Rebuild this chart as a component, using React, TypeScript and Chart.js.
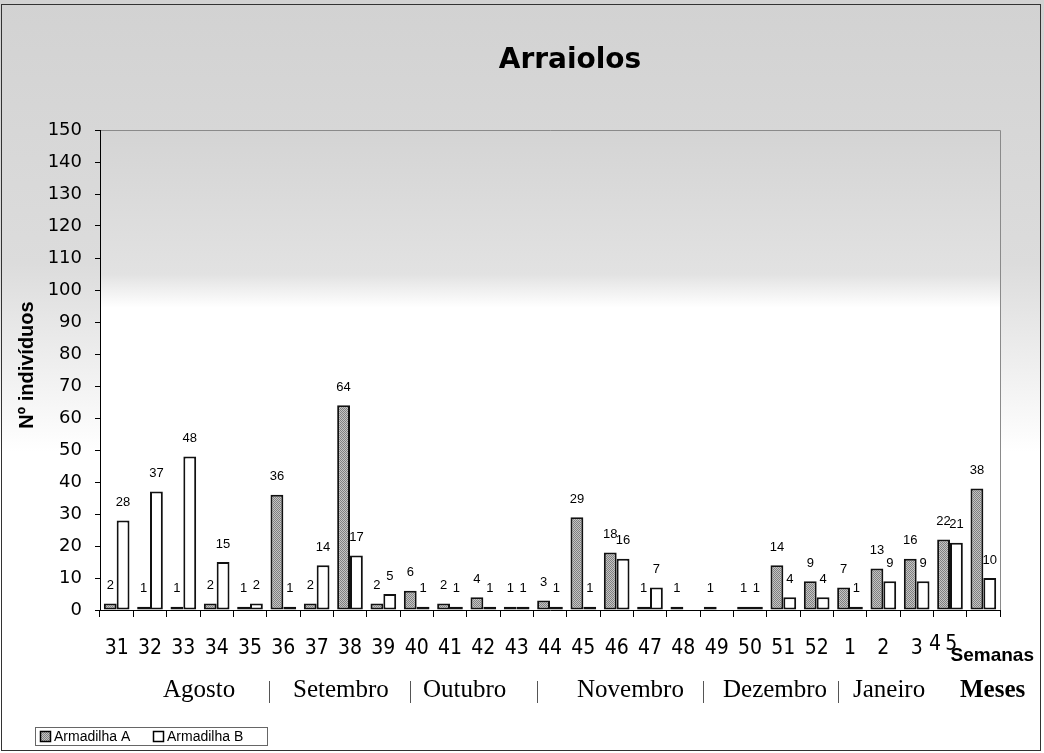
import React, { useEffect, useRef } from "react";
import { Chart, registerables } from "chart.js";

Chart.register(...registerables);

const weeks = ["31","32","33","34","35","36","37","38","39","40","41","42","43","44","45","46","47","48","49","50","51","52","1","2","3","4","5"];
const armadilhaA = [2, 1, 1, 2, 1, 36, 2, 64, 2, 6, 2, 4, 1, 3, 29, 18, 1, 1, 1, 1, 14, 9, 7, 13, 16, 22, 38];
const armadilhaB = [28, 37, 48, 15, 2, 1, 14, 17, 5, 1, 1, 1, 1, 1, 1, 16, 7, null, null, 1, 4, 4, 1, 9, 9, 21, 10];
const seriesNames = ["Armadilha A", "Armadilha B"];
const months = ["Agosto", "Setembro", "Outubro", "Novembro", "Dezembro", "Janeiro"];
const yMax = 150;
const yStep = 10;
const chartTitle = "Arraiolos";
const yTitle = "Nº indivíduos";
const weeksTitle = "Semanas";
const monthsTitle = "Meses";
const shiftedWeekCount = 2; // last week labels drawn shifted left, as in the source

const weekFont = "21px 'Liberation Sans Narrow', 'DejaVu Sans Condensed', sans-serif";

function makePattern(): CanvasPattern | string {
  const c = document.createElement("canvas");
  c.width = 2;
  c.height = 2;
  const g = c.getContext("2d");
  if (!g) return "#a6a6a6";
  g.fillStyle = "#c4c4c4";
  g.fillRect(0, 0, 2, 2);
  g.fillStyle = "#808080";
  g.fillRect(0, 0, 1, 1);
  g.fillRect(1, 1, 1, 1);
  const p = g.createPattern(c, "repeat");
  return p || "#a6a6a6";
}

export default function App() {
  const ref = useRef<HTMLCanvasElement>(null);

  useEffect(() => {
    if (!ref.current) return;
    const grayFill = makePattern();
    const n = weeks.length;
    const shiftPx = [-15, -32];

    const decor = {
      id: "decor",
      beforeDraw(chart: any) {
        const ctx = chart.ctx;
        const { left, top, right, bottom } = chart.chartArea;
        ctx.save();
        const g = ctx.createLinearGradient(0, 0, 0, 753);
        g.addColorStop(0, "#d2d2d2");
        g.addColorStop(0.35, "#dcdcdc");
        g.addColorStop(0.6, "#ffffff");
        g.addColorStop(1, "#ffffff");
        ctx.fillStyle = g;
        ctx.fillRect(0, 0, 1044, 753);
        const pg = ctx.createLinearGradient(0, top, 0, bottom);
        pg.addColorStop(0, "#d4d4d4");
        pg.addColorStop(0.3, "#e2e2e2");
        pg.addColorStop(0.37, "#ffffff");
        pg.addColorStop(1, "#ffffff");
        ctx.fillStyle = pg;
        ctx.fillRect(left, top, right - left, bottom - top);
        ctx.strokeStyle = "#8a8a8a";
        ctx.lineWidth = 1;
        ctx.beginPath();
        ctx.moveTo(left, top + 0.5);
        ctx.lineTo(right + 0.5, top + 0.5);
        ctx.lineTo(right + 0.5, bottom);
        ctx.stroke();
        ctx.restore();
      },
      afterDatasetsDraw(chart: any) {
        const ctx = chart.ctx;
        ctx.save();
        ctx.font = "13px 'Liberation Sans', Arial, sans-serif";
        ctx.fillStyle = "#000";
        ctx.textAlign = "center";
        ctx.textBaseline = "middle";
        chart.data.datasets.forEach((ds: any, di: number) => {
          const meta = chart.getDatasetMeta(di);
          meta.data.forEach((el: any, i: number) => {
            const v = ds.data[i];
            if (v === null || v === undefined) return;
            ctx.fillText(String(v), el.x, el.y - 18);
          });
        });
        ctx.restore();
      },
      afterDraw(chart: any) {
        const ctx = chart.ctx;
        const xs = chart.scales.x;
        ctx.save();
        // shifted last week labels
        ctx.fillStyle = "#000";
        ctx.font = weekFont;
        ctx.textAlign = "center";
        ctx.textBaseline = "top";
        for (let k = 0; k < shiftedWeekCount; k++) {
          const i = n - shiftedWeekCount + k;
          const x = xs.getPixelForValue(i) + shiftPx[k];
          ctx.fillText(weeks[i], x, xs.top + 24);
        }
        // title
        ctx.font = "bold 28px 'DejaVu Sans', sans-serif";
        ctx.textAlign = "center";
        ctx.textBaseline = "alphabetic";
        ctx.fillText(chartTitle, 570, 68);
        // y title
        ctx.save();
        ctx.translate(33, 365);
        ctx.rotate(-Math.PI / 2);
        ctx.font = "bold 20px 'Liberation Sans', Arial, sans-serif";
        ctx.textAlign = "center";
        ctx.textBaseline = "alphabetic";
        ctx.fillText(yTitle, 0, 0);
        ctx.restore();
        // Semanas
        ctx.font = "bold 19px 'Liberation Sans', Arial, sans-serif";
        ctx.textAlign = "right";
        ctx.textBaseline = "middle";
        ctx.fillText(weeksTitle, 1034, 656);
        // months
        ctx.font = "25px 'Liberation Serif', 'Times New Roman', serif";
        ctx.textAlign = "left";
        ctx.textBaseline = "alphabetic";
        const mx = [163, 293, 423, 577, 723, 853];
        months.forEach((m, i) => ctx.fillText(m, mx[i], 697));
        ctx.font = "bold 25px 'Liberation Serif', 'Times New Roman', serif";
        ctx.fillText(monthsTitle, 960, 697);
        ctx.strokeStyle = "#555";
        ctx.lineWidth = 1;
        [269, 410, 537, 703, 838].forEach((x) => {
          ctx.beginPath();
          ctx.moveTo(x + 0.5, 681);
          ctx.lineTo(x + 0.5, 703);
          ctx.stroke();
        });
        // legend
        ctx.fillStyle = "#fff";
        ctx.fillRect(35, 727, 232, 18);
        ctx.strokeStyle = "#666";
        ctx.strokeRect(35.5, 727.5, 232, 18);
        ctx.fillStyle = grayFill as any;
        ctx.fillRect(40, 731, 10, 10);
        ctx.strokeStyle = "#000";
        ctx.lineWidth = 1.5;
        ctx.strokeRect(40.5, 731.5, 10, 10);
        ctx.fillStyle = "#fff";
        ctx.fillRect(153, 731, 10, 10);
        ctx.strokeRect(153.5, 731.5, 10, 10);
        ctx.fillStyle = "#000";
        ctx.font = "14px 'Liberation Sans', Arial, sans-serif";
        ctx.textAlign = "left";
        ctx.textBaseline = "middle";
        ctx.fillText(seriesNames[0], 54, 737);
        ctx.fillText(seriesNames[1], 167, 737);
        // outer border
        ctx.strokeStyle = "#333";
        ctx.lineWidth = 1;
        ctx.strokeRect(1.5, 4.5, 1039, 746);
        ctx.restore();
      },
    };

    const chart = new Chart(ref.current, {
      type: "bar",
      data: {
        labels: weeks,
        datasets: [
          {
            label: seriesNames[0],
            data: armadilhaA,
            backgroundColor: grayFill as any,
            borderColor: "#111",
            borderWidth: 2,
            borderSkipped: false,
            categoryPercentage: 0.77,
            barPercentage: 1,
          },
          {
            label: seriesNames[1],
            data: armadilhaB as any,
            backgroundColor: "#ffffff",
            borderColor: "#111",
            borderWidth: 2,
            borderSkipped: false,
            categoryPercentage: 0.77,
            barPercentage: 1,
          },
        ],
      },
      options: {
        responsive: false,
        animation: false,
        devicePixelRatio: 1,
        layout: { padding: { top: 130, right: 44, left: 0, bottom: 0 } },
        plugins: {
          legend: { display: false },
          title: { display: false },
          tooltip: { enabled: false },
        },
        scales: {
          x: {
            offset: true,
            grid: {
              display: true,
              drawOnChartArea: false,
              drawTicks: true,
              tickLength: 7,
              color: "#000",
              offset: true,
            },
            border: { display: true, color: "#000", width: 1 },
            ticks: {
              color: "#000",
              font: { family: "'Liberation Sans Narrow', 'DejaVu Sans Condensed', sans-serif", size: 21 },
              padding: 19,
              maxRotation: 0,
              autoSkip: false,
              callback: (_v: any, i: number) => (i >= n - shiftedWeekCount ? "" : weeks[i]),
            },
            afterFit(s: any) {
              s.height = 143;
            },
          },
          y: {
            min: 0,
            max: yMax,
            ticks: {
              stepSize: yStep,
              color: "#000",
              font: { family: "'DejaVu Sans', sans-serif", size: 18 },
              padding: 13,
            },
            grid: {
              display: true,
              drawOnChartArea: false,
              drawTicks: true,
              tickLength: 5,
              color: "#000",
            },
            border: { display: true, color: "#000", width: 1 },
            afterFit(s: any) {
              s.width = 100;
            },
          },
        },
      },
      plugins: [decor],
    });

    return () => chart.destroy();
  }, []);

  return (
    <div style={{ position: "absolute", left: 0, top: 0, width: 1044, height: 753 }}>
      <canvas ref={ref} width={1044} height={753} style={{ display: "block" }} />
    </div>
  );
}
